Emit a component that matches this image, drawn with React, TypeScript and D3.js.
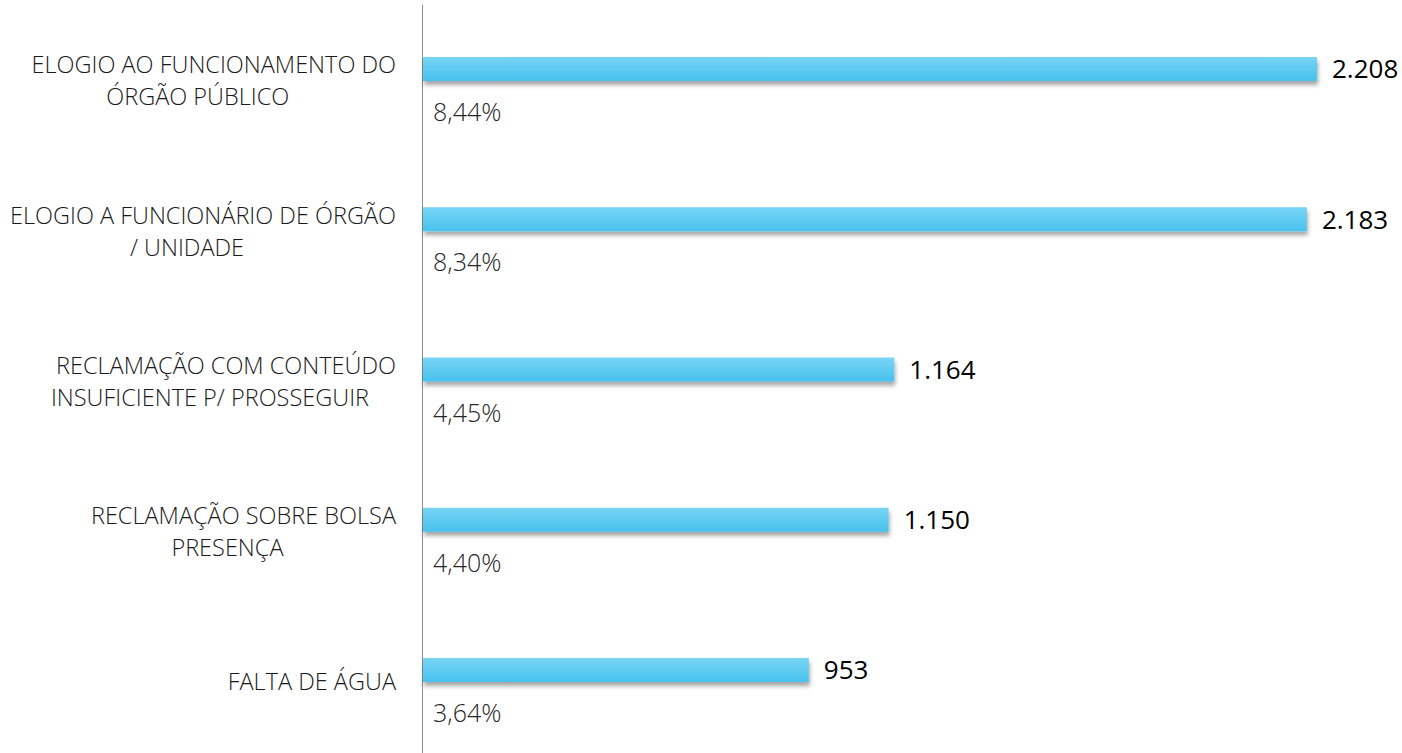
import * as d3 from 'd3'
import { useEffect, useRef } from 'react'

const categories = [
  'ELOGIO AO FUNCIONAMENTO DO|ÓRGÃO PÚBLICO',
  'ELOGIO A FUNCIONÁRIO DE ÓRGÃO|/ UNIDADE',
  'RECLAMAÇÃO COM CONTEÚDO|INSUFICIENTE P/ PROSSEGUIR',
  'RECLAMAÇÃO SOBRE BOLSA|PRESENÇA',
  'FALTA DE ÁGUA',
]
const values = [2208, 2183, 1164, 1150, 953]
const valueLabels = ['2.208', '2.183', '1.164', '1.150', '953']
const percentLabels = ['8,44%', '8,34%', '4,45%', '4,40%', '3,64%']

const WIDTH = 1402
const HEIGHT = 753
const FONT = '"Open Sans", "Segoe UI", sans-serif'

const drawChart = (el: SVGSVGElement) => {
  const svg = d3.select(el)
  svg.selectAll('*').remove()

  const x = d3.scaleLinear()
    .domain([0, d3.max(values) as number])
    .range([423, 1317])

  // bar centres
  const y = d3.scalePoint()
    .domain(categories)
    .range([69, 670])

  const BAR_H = 24

  const defs = svg.append('defs')
  const grad = defs.append('linearGradient')
    .attr('id', 'barGrad')
    .attr('x1', 0).attr('y1', 0).attr('x2', 0).attr('y2', 1)
  grad.append('stop').attr('offset', '0%').attr('stop-color', '#78d4f4')
  grad.append('stop').attr('offset', '100%').attr('stop-color', '#47c2ee')

  const filter = defs.append('filter')
    .attr('id', 'shadow')
    .attr('x', '-5%').attr('y', '-50%').attr('width', '110%').attr('height', '220%')
  filter.append('feDropShadow')
    .attr('dx', 1).attr('dy', 4).attr('stdDeviation', 2)
    .attr('flood-color', '#000').attr('flood-opacity', 0.35)

  // vertical axis line
  svg.append('line')
    .attr('x1', 422.5).attr('x2', 422.5)
    .attr('y1', 5).attr('y2', HEIGHT)
    .attr('stroke', '#8c8c8c')
    .attr('stroke-width', 1)

  const rows = svg.selectAll('g.row')
    .data(categories)
    .join('g')
    .attr('class', 'row')

  rows.append('rect')
    .attr('x', x(0))
    .attr('y', d => (y(d) as number) - BAR_H / 2)
    .attr('width', (d, i) => x(values[i]) - x(0))
    .attr('height', BAR_H)
    .attr('fill', 'url(#barGrad)')
    .attr('filter', 'url(#shadow)')

  rows.append('text')
    .attr('x', (d, i) => x(values[i]) + 15)
    .attr('y', d => y(d) as number)
    .attr('dy', '0.36em')
    .attr('font-family', FONT)
    .attr('font-size', 26)
    .attr('fill', '#000')
    .text((d, i) => valueLabels[i])

  rows.append('text')
    .attr('x', 433)
    .attr('y', d => (y(d) as number) + 52)
    .attr('font-family', FONT)
    .attr('font-weight', 300)
    .attr('font-size', 25)
    .attr('fill', '#262626')
    .text((d, i) => percentLabels[i])

  // category labels: first line ends at 396, wrapped line centred a bit to the left
  rows.each(function (d) {
    const lines = d.split('|')
    const g = d3.select(this).append('g')
    const cy = (y(d) as number) + 12
    const lineH = 32
    const texts = lines.map((line, j) => g.append('text')
      .attr('y', cy + (j - (lines.length - 1) / 2) * lineH)
      .attr('dy', '0.36em')
      .attr('text-anchor', 'middle')
      .attr('font-family', FONT)
      .attr('font-weight', 300)
      .attr('font-size', 23.5)
      .attr('fill', '#1a1a1a')
      .text(line))
    const maxW = d3.max(texts, t => (t.node() as SVGTextElement).getComputedTextLength()) as number
    texts.forEach((t, j) => t.attr('x', 396 - maxW / 2 - (j > 0 ? 16 : 0)))
  })
}

export default function App() {
  const ref = useRef<SVGSVGElement>(null)
  useEffect(() => {
    document.body.style.margin = '0'
    if (ref.current) drawChart(ref.current)
  }, [])
  return <svg ref={ref} width={WIDTH} height={HEIGHT} style={{ display: 'block', background: '#fff' }}></svg>
}
